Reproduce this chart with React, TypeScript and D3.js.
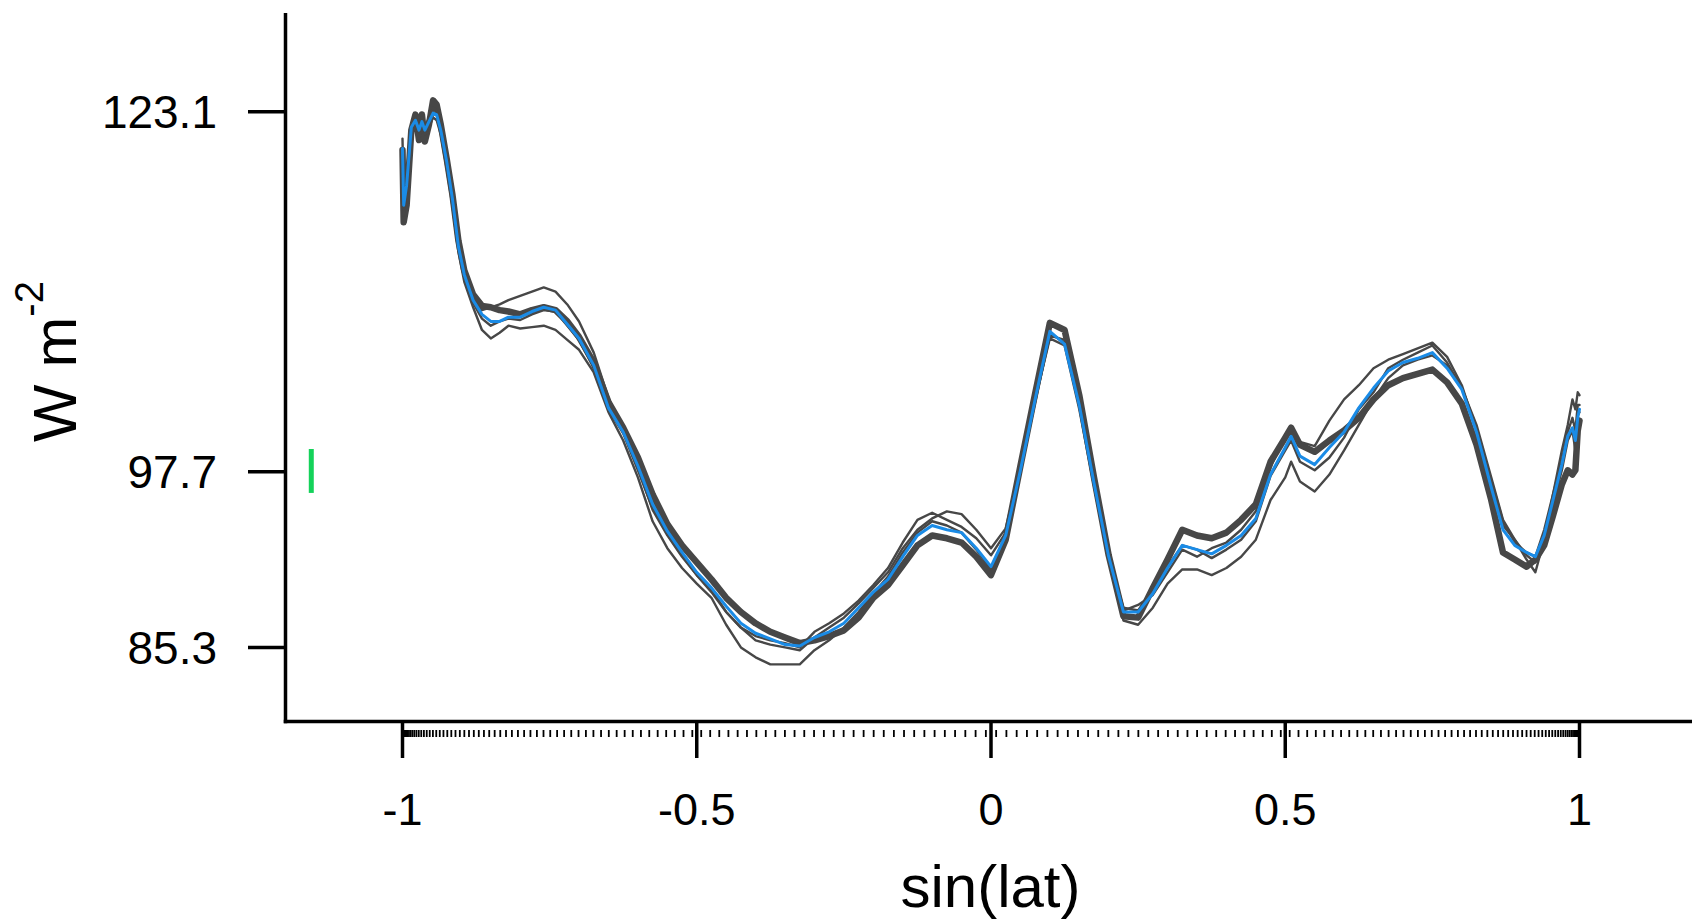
import React from 'react';
import * as d3 from 'd3';

// x positions: sin(latitude)
const sinLat = [
  -1.0, -0.998, -0.993, -0.985, -0.978, -0.972, -0.967, -0.962, -0.955, -0.948,
  -0.942, -0.935, -0.925, -0.915, -0.905, -0.895, -0.88, -0.865, -0.85, -0.835,
  -0.82, -0.8, -0.78, -0.76, -0.74, -0.72, -0.7, -0.675, -0.65, -0.625,
  -0.6, -0.575, -0.55, -0.525, -0.5, -0.475, -0.45, -0.425, -0.4, -0.375,
  -0.35, -0.325, -0.3, -0.275, -0.25, -0.225, -0.2, -0.175, -0.15, -0.125,
  -0.1, -0.075, -0.05, -0.025, 0, 0.025, 0.05, 0.075, 0.1, 0.125,
  0.15, 0.175, 0.2, 0.225, 0.25, 0.275, 0.3, 0.325, 0.35, 0.375,
  0.4, 0.425, 0.45, 0.475, 0.5, 0.51, 0.525, 0.55, 0.575, 0.6,
  0.625, 0.65, 0.675, 0.7, 0.725, 0.75, 0.775, 0.8, 0.825, 0.85,
  0.87, 0.89, 0.91, 0.925, 0.94, 0.955, 0.97, 0.98, 0.988, 0.993,
  0.997, 1.0,
];

// blue (ensemble mean)
const meanFlux = [
  120.5, 116.5, 117.9, 122.0, 122.5, 121.8, 122.4, 121.8, 122.4, 123.0,
  122.9, 121.8, 119.6, 116.9, 113.6, 111.6, 109.8, 108.8, 108.3, 108.3,
  108.6, 108.6, 109.0, 109.3, 109.1, 108.1, 107.1, 105.2, 102.2, 100.5,
  98.1, 95.4, 93.5, 92.0, 90.6, 89.5, 88.2, 87.0, 86.3, 85.9,
  85.5, 85.4, 86.0, 86.4, 87.0, 88.1, 89.2, 90.1, 91.7, 93.2,
  93.9, 93.6, 93.4, 92.3, 91.0, 93.2, 97.8, 102.8, 107.6, 106.7,
  102.4, 96.9, 91.7, 87.8, 87.8, 89.1, 90.9, 92.5, 92.2, 91.9,
  92.5, 93.2, 94.4, 97.5, 99.4, 100.2, 98.8, 98.2, 99.4, 100.5,
  102.2, 103.6, 104.8, 105.4, 105.7, 106.1, 105.0, 103.5, 100.5, 96.6,
  93.6, 92.5, 92.0, 91.7, 93.2, 95.7, 98.2, 100.2, 100.8, 99.9,
  101.5, 102.1,
];

// thick dark-grey member
const thickRun = [
  120.4, 115.3, 116.5, 121.8, 122.9, 121.1, 122.9, 121.0, 122.2, 123.9,
  123.6, 122.2, 119.8, 117.2, 114.0, 111.9, 110.2, 109.4, 109.3, 109.1,
  109.0, 108.8, 109.1, 109.3, 109.1, 108.3, 107.2, 105.4, 102.6, 100.8,
  98.7, 96.1, 94.0, 92.5, 91.3, 90.1, 88.8, 87.8, 87.0, 86.4,
  86.0, 85.6, 85.8, 86.1, 86.5, 87.4, 88.8, 89.7, 91.1, 92.5,
  93.2, 93.0, 92.7, 91.7, 90.4, 92.9, 98.1, 103.2, 108.2, 107.7,
  103.1, 97.3, 91.8, 87.5, 87.4, 89.5, 91.5, 93.6, 93.2, 93.0,
  93.4, 94.3, 95.4, 98.4, 100.1, 100.8, 99.6, 99.1, 99.9, 100.6,
  101.5, 102.8, 103.8, 104.3, 104.6, 104.9, 104.0, 102.5, 99.6, 95.7,
  92.0, 91.5, 91.0, 91.5, 92.5, 94.6, 96.8, 97.8, 97.5, 97.8,
  100.6, 101.3,
];

// thin grey members
const runA = [
  121.2, 116.9, 118.6, 122.2, 122.7, 122.0, 122.7, 122.0, 122.7, 123.4,
  123.2, 122.0, 119.7, 117.0, 113.7, 111.6, 109.8, 109.1, 109.3, 109.5,
  109.8, 110.1, 110.4, 110.7, 110.4, 109.5, 108.3, 106.1, 102.9, 100.6,
  98.0, 95.0, 93.2, 91.7, 90.4, 89.4, 87.8, 86.7, 85.8, 85.5,
  85.3, 85.1, 86.0, 86.7, 87.4, 88.4, 89.5, 90.6, 92.3, 93.6,
  94.4, 94.9, 94.7, 93.6, 92.3, 93.7, 98.0, 102.8, 107.1, 106.6,
  102.1, 96.7, 91.5, 87.9, 88.3, 89.0, 90.6, 92.2, 91.7, 92.3,
  92.7, 93.6, 94.9, 98.0, 100.3, 100.5, 99.8, 99.5, 101.3, 102.8,
  103.8, 105.0, 105.6, 106.0, 106.4, 106.8, 105.8, 103.8, 100.6, 96.8,
  93.9, 92.9, 91.5, 90.6, 92.9, 96.1, 99.2, 101.0, 102.8, 102.1,
  103.3, 103.1,
];

const runB = [
  119.7, 115.8, 117.6, 121.5, 122.2, 121.2, 121.8, 121.5, 122.0, 122.7,
  122.5, 121.5, 119.1, 116.4, 113.2, 111.1, 109.3, 107.7, 107.1, 107.5,
  108.0, 107.8, 107.9, 108.0, 107.7, 107.0, 106.3, 104.7, 101.9, 99.9,
  97.3, 94.2, 92.3, 90.9, 89.8, 88.8, 86.9, 85.3, 84.6, 84.1,
  84.1, 84.1, 85.1, 85.8, 86.7, 87.8, 89.1, 90.3, 92.0, 93.4,
  94.2, 93.9, 93.4, 92.2, 90.8, 93.2, 97.8, 102.6, 107.3, 107.0,
  102.8, 97.3, 92.0, 87.2, 86.9, 88.1, 89.8, 90.8, 90.8, 90.4,
  90.9, 91.7, 92.9, 95.7, 97.3, 98.4, 97.0, 96.3, 97.5, 99.2,
  101.0, 102.8, 104.3, 105.2, 105.6, 105.9, 105.2, 103.6, 101.0, 97.3,
  94.3, 92.9, 91.8, 91.3, 92.9, 95.4, 97.8, 99.9, 100.6, 99.2,
  101.7, 101.9,
];

const runC = [
  120.3, 116.2, 117.6, 122.0, 122.4, 121.7, 122.2, 121.5, 122.2, 123.1,
  122.9, 121.7, 119.3, 116.7, 113.5, 111.4, 109.6, 108.5, 108.0, 108.3,
  108.5, 108.4, 108.8, 109.1, 109.0, 108.0, 107.0, 105.0, 102.1, 100.4,
  97.8, 95.1, 93.3, 91.8, 90.4, 89.2, 87.8, 86.7, 86.1, 85.8,
  85.6, 85.3, 86.4, 87.0, 87.7, 88.6, 89.7, 90.9, 92.7, 94.3,
  94.8, 94.3, 93.8, 93.0, 91.8, 93.4, 97.8, 102.8, 107.5, 106.8,
  102.4, 97.0, 91.8, 88.1, 87.9, 89.4, 91.0, 92.5, 92.2, 91.6,
  92.2, 92.9, 94.2, 97.4, 99.2, 99.9, 98.4, 97.8, 98.7, 100.1,
  102.1, 103.3, 105.0, 105.6, 106.1, 106.6, 105.4, 103.6, 100.8, 97.1,
  94.2, 92.7, 92.0, 91.7, 93.6, 96.1, 98.5, 100.5, 101.5, 100.6,
  102.4, 102.4,
];

const yTicks = [85.3, 97.7, 123.1];
const yTickLabels = ['85.3', '97.7', '123.1'];
const xTicks = [-1, -0.5, 0, 0.5, 1];
const xTickLabels = ['-1', '-0.5', '0', '0.5', '1'];
const minorTickLats = d3.range(-89.5, 90, 1);

// green range marker (global mean spread)
const rangeX = -1.155;
const rangeLow = 96.2;
const rangeHigh = 99.3;

const FONT = '"Liberation Sans", Arial, Helvetica, sans-serif';
const GREY = '#474747';
const BLUE = '#1a8be6';

export default function App() {
  const x = d3.scaleLinear().domain([-1, 1]).range([402.5, 1579.5]);
  const y = d3.scaleLinear().domain([85.3, 123.1]).range([647.4, 111.7]);
  const mk = (vals: number[]) =>
    d3
      .line<number>()
      .x((_, i) => x(sinLat[i]))
      .y((d) => y(d))(vals) || '';

  const axisX = 285.5;
  const axisY = 721.5;

  return (
    <svg
      width={1692}
      height={922}
      style={{ position: 'absolute', left: 0, top: 0, background: '#fff' }}
      fontFamily={FONT}
    >
      <rect x={0} y={0} width={1692} height={922} fill="#fff" />
      {/* axes lines */}
      <line x1={axisX} y1={13} x2={axisX} y2={axisY + 1.75} stroke="#000" strokeWidth={3.5} />
      <line x1={axisX - 1.75} y1={axisY} x2={1692} y2={axisY} stroke="#000" strokeWidth={3.5} />

      {/* y ticks */}
      {yTicks.map((t, i) => (
        <g key={'yt' + i}>
          <line x1={248} x2={axisX} y1={y(t)} y2={y(t)} stroke="#000" strokeWidth={3.5} />
          <text x={217} y={y(t) + 16.5} fontSize={46} textAnchor="end" fill="#000">
            {yTickLabels[i]}
          </text>
        </g>
      ))}

      {/* x minor ticks */}
      {minorTickLats.map((lat, i) => {
        const px = x(Math.sin((lat * Math.PI) / 180));
        return <line key={'mt' + i} x1={px} x2={px} y1={730} y2={737} stroke="#000" strokeWidth={1.8} />;
      })}
      {/* x major ticks */}
      {xTicks.map((t, i) => (
        <g key={'xt' + i}>
          <line x1={x(t)} x2={x(t)} y1={axisY} y2={758} stroke="#000" strokeWidth={3.5} />
          <text x={x(t)} y={825} fontSize={45} textAnchor="middle" fill="#000">
            {xTickLabels[i]}
          </text>
        </g>
      ))}

      {/* axis titles */}
      <text x={990.5} y={907} fontSize={60} textAnchor="middle" fill="#000">
        sin(lat)
      </text>
      <text transform="translate(75.5,442) rotate(-90)" fontSize={61} fill="#000">
        W m
        <tspan fontSize={40} dy={-33}>
          -2
        </tspan>
      </text>

      {/* green range marker */}
      <line
        x1={x(rangeX)}
        x2={x(rangeX)}
        y1={y(rangeLow)}
        y2={y(rangeHigh)}
        stroke="#14d25a"
        strokeWidth={5}
      />

      {/* series */}
      <g fill="none" strokeLinejoin="round" strokeLinecap="round">
        <path d={mk(thickRun)} stroke={GREY} strokeWidth={6.5} />
        <path d={mk(runA)} stroke={GREY} strokeWidth={2.4} />
        <path d={mk(runB)} stroke={GREY} strokeWidth={2.4} />
        <path d={mk(runC)} stroke={GREY} strokeWidth={2.4} />
        <path d={mk(meanFlux)} stroke={BLUE} strokeWidth={3} />
      </g>
    </svg>
  );
}
